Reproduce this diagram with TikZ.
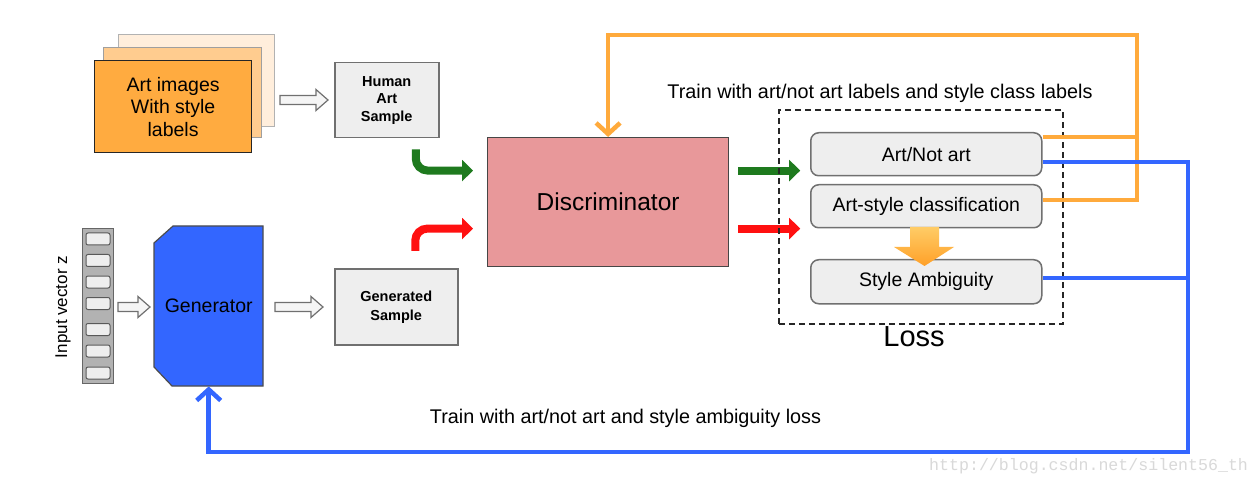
\documentclass[tikz,border=0pt]{standalone}
\usepackage{fontspec}
\setmainfont{Liberation Sans}
\newfontfamily\wmfont{Liberation Mono}
\usetikzlibrary{arrows.meta,calc}
\definecolor{artfront}{HTML}{FFAB40}
\definecolor{artmid}{HTML}{FFCC8F}
\definecolor{artback}{HTML}{FFEEDC}
\definecolor{samplegray}{HTML}{EEEEEE}
\definecolor{discred}{HTML}{E8989A}
\definecolor{genblue}{HTML}{3366FF}
\definecolor{arrgreen}{HTML}{1E7A1E}
\definecolor{arrred}{HTML}{FF1010}
\definecolor{orline}{HTML}{FFAA3C}
\definecolor{ortop}{HTML}{FFCC66}
\definecolor{orbot}{HTML}{FFA028}
\definecolor{borderg}{HTML}{707070}
\tikzset{
  sheet/.style={draw=#1, line width=1.2, inner sep=0, anchor=north west},
  samplebox/.style={draw=borderg, fill=samplegray, line width=1.5, inner sep=0, anchor=north west, align=center, font=\bfseries\fontsize{14.5}{17.5}\selectfont},
  lossitem/.style={draw=borderg, fill=samplegray, line width=1.5, rounded corners=8, inner sep=0, anchor=north west, minimum width=231, minimum height=43, font=\fontsize{19.5}{22}\selectfont},
  hollow/.style={draw=borderg, fill=samplegray!60, line width=1.2, line join=miter},
  bentarr/.style={line width=8, rounded corners=12, -{Triangle[length=11pt,width=21pt]}},
  straightarr/.style={line width=8, -{Triangle[length=11pt,width=21pt]}},
  orangefb/.style={draw=orline, line width=4.5},
  bluefb/.style={draw=genblue, line width=4.5},
  barb/.style={-{Straight Barb[length=11pt,width=24pt]}},
  cell/.style={draw=black!65, fill=samplegray, line width=1, rounded corners=2, minimum width=24, minimum height=12, inner sep=0},
  caption/.style={font=\fontsize{19.8}{22}\selectfont, inner sep=0},
  pics/harrow/.style={code={\draw[hollow] (0,-4.5) -- (#1-12,-4.5) -- (#1-12,-10.5) -- (#1,0) -- (#1-12,10.5) -- (#1-12,4.5) -- (0,4.5) -- cycle;}}
}
\begin{document}
\begin{tikzpicture}[x=1pt,y=-1pt]
\useasboundingbox (0,0) rectangle (1260,486);
\fill[white] (0,0) rectangle (1260,486);

% art image stack
\node[sheet=gray!60, fill=artback, minimum width=156, minimum height=92] (back) at (118,34) {};
\node[sheet=gray!75, fill=artmid, minimum width=158, minimum height=90] (mid) at (103,47) {};
\node[sheet=black!85, fill=artfront, minimum width=157, minimum height=92, align=center, font=\fontsize{19.5}{22.5}\selectfont] (art) at (94,60) {Art images\\With style\\labels};

\pic at (280,100) {harrow=48};
\node[samplebox, minimum width=104, minimum height=75] (human) at (334,62) {Human\\Art\\Sample};

% input vector
\node[draw=gray!80!black, fill=gray!60, line width=1.2, minimum width=31, minimum height=155, anchor=north west, inner sep=0] (zbar) at (82,228) {};
\foreach \cy [count=\i] in {239,260.5,282,303.5,329.5,351,373}
  \node[cell] (c\i) at (98,\cy) {};
\node[rotate=90, font=\fontsize{17}{20}\selectfont, inner sep=0] (zlabel) at (63,307) {Input vector z};

\pic at (118,307) {harrow=32};

% generator
\filldraw[fill=genblue, draw=gray!60!black, line width=1.2] (173,226) -- (263,226) -- (263,386) -- (172,386) -- (154,367) -- (154,243) -- cycle;
\node[minimum width=109, minimum height=160, inner sep=0, anchor=north west, font=\fontsize{19.5}{22}\selectfont] (gen) at (154,226) {Generator};

\pic at (275,307) {harrow=48};
\node[samplebox, minimum width=123, minimum height=76, font=\bfseries\fontsize{14.5}{19}\selectfont] (gensample) at (334,268) {Generated\\Sample};

% discriminator
\node[draw=gray!55!black, fill=discred, line width=1.2, minimum width=241, minimum height=129, inner sep=0, anchor=north west, font=\fontsize{24.5}{28}\selectfont] (disc) at (487,137) {Discriminator};

\draw[bentarr, arrgreen] ($(human.south)+(29,11)$) |- ($(disc.west)+(-14,-31.5)$);
\draw[bentarr, arrred] ($(gensample.north)+(19,-17)$) |- ($(disc.west)+(-14,26.5)$);

\draw[straightarr, arrgreen] ($(disc.east)+(9,-31.5)$) -- ++(62,0);
\draw[straightarr, arrred] ($(disc.east)+(9,26.5)$) -- ++(62,0);

% loss box
\node[draw=black!85, line width=2, dash pattern=on 6pt off 4pt, minimum width=284, minimum height=214, inner sep=0, anchor=north west] (lossbox) at (778,109) {};
\node[font=\fontsize{29}{32}\selectfont, inner sep=0] (losslabel) at (914,337) {Loss};

\node[lossitem] (artnot) at (810,132) {Art/Not art};
\node[lossitem] (artstyle) at (810,184) {Art-style classification};
\node[lossitem, minimum height=44] (styleamb) at (810,259) {Style Ambiguity};

\shade[top color=ortop, bottom color=orbot] (910,227) -- (939,227) -- (939,247) -- (954,247) -- (924.5,266) -- (894,247) -- (910,247) -- cycle;

\node[caption] (toptext) at (880,93) {Train with art/not art labels and style class labels};
\node[caption] (bottext) at (625.5,418) {Train with art/not art and style ambiguity loss};

% orange feedback
\coordinate (orTR) at (1137,35);
\draw[orangefb] ($(artnot.north east)+(0,5)$) -- (1137,137);
\draw[orangefb, barb] ($(artstyle.north east)+(0,16)$) -- (1137,200) -- (orTR) -| (disc.north);

% blue feedback
\coordinate (blBR) at (1188,452);
\draw[bluefb] ($(styleamb.north east)+(0,19)$) -- (1188,278);
\draw[bluefb, barb] ($(artnot.north east)+(0,30)$) -- (1188,162) -- (blBR) -| (gen.south);

% watermark
\node[font=\wmfont\fontsize{16.6}{18}\selectfont, text=gray!30, anchor=west, inner sep=0] (wm) at (929,466) {http://blog.csdn.net/silent56\_th};
\end{tikzpicture}
\end{document}
